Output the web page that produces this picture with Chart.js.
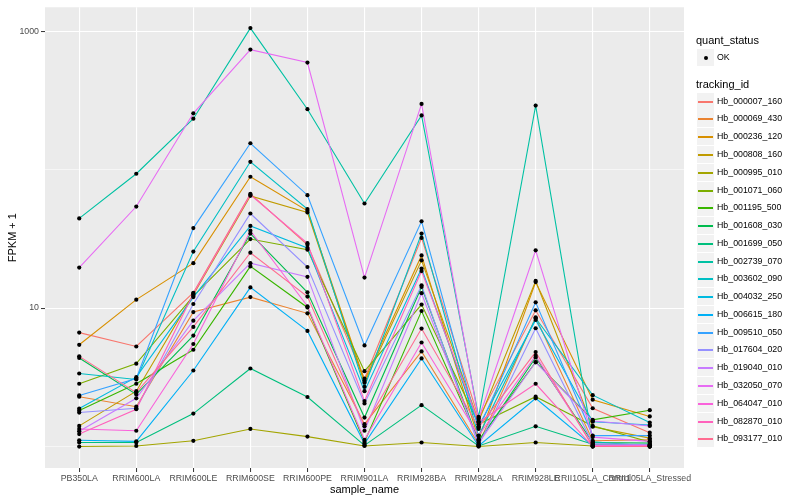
<!DOCTYPE html>
<html><head><meta charset="utf-8">
<script src="https://cdn.jsdelivr.net/npm/chart.js@4.4.1/dist/chart.umd.min.js"></script>
<style>
body{margin:0;background:#fff;}
#wrap{position:relative;width:800px;height:500px;overflow:hidden;}
#c{position:absolute;left:0;top:0;}
.lg{position:absolute;font-family:"Liberation Sans",Arial,sans-serif;color:#000;white-space:nowrap;}
.lt{font-size:11px;}
.li{font-size:8.8px;}
.key{position:absolute;width:17px;height:17px;background:#F2F2F2;}
.kline{position:absolute;left:1px;width:15px;top:7.5px;height:2px;}
.kdot{position:absolute;left:6.5px;top:6.5px;width:4px;height:4px;border-radius:50%;background:#000;}
</style></head><body>
<div id="wrap"><canvas id="c" width="800" height="500"></canvas><div id="legend"></div></div>
<script>
const categories = ["PB350LA","RRIM600LA","RRIM600LE","RRIM600SE","RRIM600PE","RRIM901LA","RRIM928BA","RRIM928LA","RRIM928LE","RRII105LA_Control","RRII105LA_Stressed"];
const trackingIds = ["Hb_000007_160","Hb_000069_430","Hb_000236_120","Hb_000808_160","Hb_000995_010","Hb_001071_060","Hb_001195_500","Hb_001608_030","Hb_001699_050","Hb_002739_070","Hb_003602_090","Hb_004032_250","Hb_006615_180","Hb_009510_050","Hb_017604_020","Hb_019040_010","Hb_032050_070","Hb_064047_010","Hb_082870_010","Hb_093177_010"];
const colors = ["#F8766D","#EA8331","#D89000","#C09B00","#A3A500","#7CAE00","#39B600","#00BB4E","#00BF7D","#00C1A3","#00BFC4","#00BAE0","#00B0F6","#35A2FF","#9590FF","#C77CFF","#E76BF3","#FA62DB","#FF62BC","#FF6C91"];
const quantStatus = ["OK"];
const yTickValues = [1, 10, 100, 1000];
const yTickLabels = ["", "10", "", "1000"];

// FPKM + 1 per sample (same order as categories)
const hb_000007_160 = [6.65, 5.28, 12.9, 66.7, 28.6, 3.09, 32.1, 1.61, 9.63, 1.89, 1.26];
const hb_000069_430 = [2.29, 1.94, 9.36, 12.0, 9.16, 1.45, 4.86, 1.04, 8.58, 1.10, 1.12];
const hb_000236_120 = [5.43, 11.5, 21.1, 88.8, 50.4, 3.00, 24.0, 1.13, 15.4, 2.18, 1.65];
const hb_000808_160 = [1.41, 2.51, 12.5, 64.6, 49.0, 2.89, 22.1, 1.52, 15.7, 1.39, 1.15];
const hb_000995_010 = [1.00, 1.01, 1.10, 1.34, 1.18, 1.01, 1.07, 1.00, 1.07, 1.01, 1.00];
const hb_001071_060 = [2.84, 3.97, 12.2, 31.5, 26.4, 3.50, 10.6, 1.45, 2.29, 1.41, 1.08];
const hb_001195_500 = [1.82, 2.84, 5.00, 20.0, 10.1, 1.08, 9.52, 1.11, 4.08, 1.56, 1.83];
const hb_001608_030 = [4.36, 2.38, 6.33, 34.5, 13.0, 1.62, 14.2, 1.08, 4.40, 1.07, 1.06];
const hb_001699_050 = [1.07, 1.07, 1.73, 3.66, 2.28, 1.02, 1.99, 1.01, 1.40, 1.04, 1.04];
const hb_002739_070 = [44.4, 93.3, 233, 1051, 273, 56.9, 246, 1.64, 290, 1.08, 1.01];
const hb_003602_090 = [3.37, 3.05, 25.6, 113.8, 51.9, 2.70, 34.5, 1.19, 8.44, 2.35, 1.49];
const hb_004032_250 = [1.88, 3.17, 12.0, 39.2, 27.2, 2.51, 19.3, 1.40, 8.20, 1.51, 1.43];
const hb_006615_180 = [1.11, 1.09, 3.54, 14.1, 6.84, 1.05, 4.33, 1.01, 2.23, 1.01, 1.02];
const hb_009510_050 = [2.34, 3.10, 37.8, 155, 65.3, 5.37, 42.3, 1.34, 11.0, 1.20, 1.20];
const hb_017604_020 = [1.76, 1.89, 10.7, 48.2, 19.8, 2.05, 14.6, 1.02, 7.15, 1.05, 1.03];
const hb_019040_010 = [1.29, 2.23, 8.11, 21.1, 16.8, 1.30, 12.8, 1.06, 4.06, 1.53, 1.41];
const hb_032050_070 = [19.6, 54.1, 255, 735, 593, 16.6, 298, 1.58, 26.1, 1.17, 1.09];
const hb_064047_010 = [1.34, 1.30, 5.50, 36.2, 10.3, 1.12, 5.64, 1.20, 4.53, 1.02, 1.02];
const hb_082870_010 = [1.23, 1.86, 12.7, 65.7, 29.4, 2.13, 18.5, 1.50, 2.84, 1.00, 1.00];
const hb_093177_010 = [4.48, 2.45, 7.31, 25.1, 12.1, 1.40, 7.11, 1.38, 4.81, 1.00, 1.00];

const seriesValues = [hb_000007_160, hb_000069_430, hb_000236_120, hb_000808_160, hb_000995_010,
  hb_001071_060, hb_001195_500, hb_001608_030, hb_001699_050, hb_002739_070,
  hb_003602_090, hb_004032_250, hb_006615_180, hb_009510_050, hb_017604_020,
  hb_019040_010, hb_032050_070, hb_064047_010, hb_082870_010, hb_093177_010];

const FONT = '"Liberation Sans", Arial, sans-serif';
const toXY = vals => vals.map((v, i) => ({x: i, y: v}));

const datasets = [];
seriesValues.forEach((vals, k) => {
  datasets.push({label: trackingIds[k], data: toXY(vals), showLine: true, borderColor: colors[k], backgroundColor: colors[k],
    borderWidth: 1.1, pointRadius: 0, pointHoverRadius: 0, fill: false, tension: 0, order: 40 - k});
});
seriesValues.forEach((vals, k) => {
  datasets.push({label: trackingIds[k] + ' pts', data: toXY(vals), showLine: false, pointRadius: 2.1,
    pointBackgroundColor: '#000', pointBorderWidth: 0, pointBorderColor: '#000', order: 0});
});

const panelBg = {id: 'panelBg', beforeDraw(chart) {
  const {ctx, chartArea: a} = chart; ctx.save(); ctx.fillStyle = '#EBEBEB';
  ctx.fillRect(a.left, a.top, a.right - a.left, a.bottom - a.top); ctx.restore(); }};

new Chart(document.getElementById('c'), {
  type: 'scatter',
  data: {datasets},
  plugins: [panelBg],
  options: {
    responsive: false, animation: false, devicePixelRatio: 1,
    layout: {padding: {left: 0, right: 116, top: 5, bottom: 0}},
    plugins: {legend: {display: false}, tooltip: {enabled: false}},
    scales: {
      x: {type: 'linear', min: -0.6, max: 10.6,
        afterBuildTicks: s => { s.ticks = categories.map((c, i) => ({value: i})); },
        afterFit: s => { s.height = 32; },
        ticks: {autoSkip: false, maxRotation: 0, minRotation: 0, padding: 1, color: '#4D4D4D',
          font: {family: FONT, size: 8.8}, callback: v => categories[v]},
        grid: {color: '#FFFFFF', lineWidth: 1.1, tickLength: 4, tickColor: '#333333', tickWidth: 1},
        border: {display: false},
        title: {display: true, text: 'sample_name', color: '#000', font: {family: FONT, size: 11}, padding: {top: 0, bottom: 3}}
      },
      y: {type: 'logarithmic', min: 0.71, max: 1486,
        afterBuildTicks: s => { s.ticks = yTickValues.map(v => ({value: v})); },
        afterFit: s => { s.width = 45; },
        ticks: {padding: 2, color: '#4D4D4D', font: {family: FONT, size: 8.8},
          callback: v => yTickLabels[yTickValues.indexOf(v)]},
        grid: {color: '#FFFFFF', tickLength: 4, tickWidth: 1,
          lineWidth: c => (yTickLabels[yTickValues.indexOf(c.tick.value)] ? 1.1 : 0.55),
          tickColor: c => (yTickLabels[yTickValues.indexOf(c.tick.value)] ? '#333333' : 'rgba(0,0,0,0)')},
        border: {display: false},
        title: {display: true, text: 'FPKM + 1', color: '#000', font: {family: FONT, size: 11}, padding: {top: 6, bottom: 0}}
      }
    }
  }
});

// legend (HTML text)
const lg = document.getElementById('legend');
function add(html) { lg.insertAdjacentHTML('beforeend', html); }
add('<div class="lg lt" style="left:696px;top:34px;">quant_status</div>');
quantStatus.forEach((q, i) => {
  const cy = 57.5 + i * 17.8;
  add('<div class="key" style="left:697px;top:' + (cy - 8.5) + 'px;"><div class="kdot"></div></div>');
  add('<div class="lg li" style="left:717px;top:' + (cy - 5.5) + 'px;">' + q + '</div>');
});
add('<div class="lg lt" style="left:696px;top:78px;">tracking_id</div>');
trackingIds.forEach((t, i) => {
  const cy = Math.round(100.7 + i * 17.77);
  add('<div class="key" style="left:697px;top:' + (cy - 8) + 'px;"><div class="kline" style="background:' + colors[i] + '"></div></div>');
  add('<div class="lg li" style="left:717px;top:' + (cy - 5.5) + 'px;">' + t + '</div>');
});
</script>
</body></html>
